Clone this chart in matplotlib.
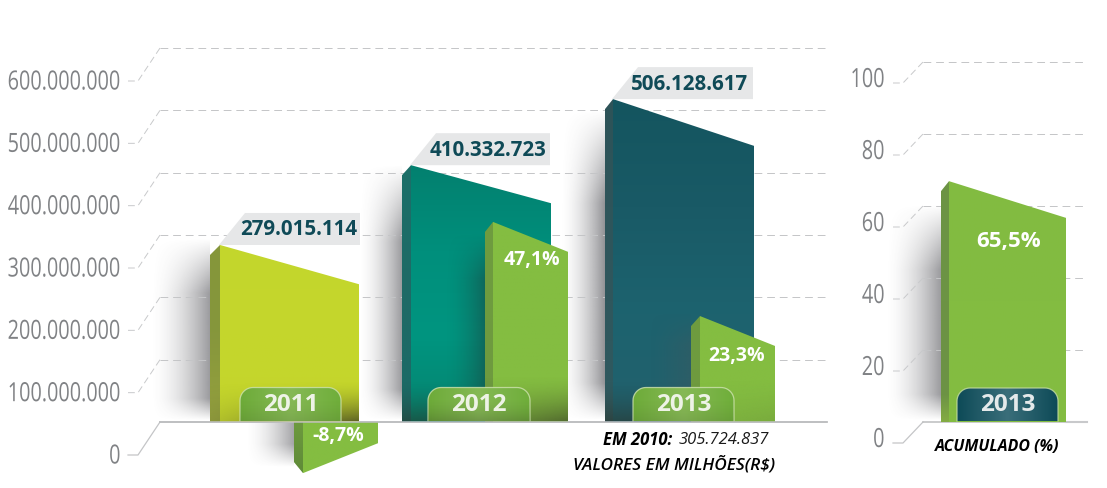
import numpy as np
import matplotlib
matplotlib.use('Agg')
import matplotlib.pyplot as plt
from matplotlib.colors import LinearSegmentedColormap, to_rgb
from matplotlib.patches import Polygon
from matplotlib.patheffects import AbstractPathEffect
from matplotlib.transforms import Affine2D

# ==================== DADOS ====================
anos = ['2011', '2012', '2013']
rotulos_valor = ['279.015.114', '410.332.723', '506.128.617']
rotulos_var = ['-8,7%', '47,1%', '23,3%']
rotulos_eixo = ['0', '100.000.000', '200.000.000', '300.000.000', '400.000.000', '500.000.000', '600.000.000']
ticks_eixo = [0, 100e6, 200e6, 300e6, 400e6, 500e6, 600e6]
ticks_acum = [0, 20, 40, 60, 80, 100]

# topo (canto alto) e fim (canto baixo), em R$
topo_barra = [284e6, 412e6, 518e6]
fim_barra = [221e6, 351e6, 443e6]
topo_var = [-82e6, 321e6, 170e6]
fim_var = [-34e6, 273e6, 122e6]
# acumulado, em %
topo_acum = 66.9
fim_acum = 56.7

W, H = 1107, 489
fig = plt.figure(figsize=(W / 100, H / 100), dpi=100, facecolor='white')

CINZA = '#808285'
ESCURO = '#0f4a57'
VERDE = '#84bd41'
FONTE = 'Open Sans'


class Estica(AbstractPathEffect):
    # estica o texto na vertical (a fonte original e condensada)
    def __init__(self, fy):
        super().__init__()
        self.fy = fy

    def draw_path(self, renderer, gc, tpath, affine, rgbFace=None):
        renderer.draw_path(gc, tpath, Affine2D().scale(1, self.fy) + affine, rgbFace)


def novo_eixo(zero_px, topo_px, topo_val):
    # eixo na figura toda: x em pixels, y em valores
    ax = fig.add_axes([0, 0, 1, 1], facecolor='none')
    esc = (zero_px - topo_px) / topo_val
    ax.set_xlim(0, W)
    ax.set_ylim((zero_px - H) / esc, zero_px / esc)
    ax.axis('off')
    return ax


def py(ax, p):
    # pixel vertical -> valor do eixo
    y0, y1 = ax.get_ylim()
    return y1 + (p / H) * (y0 - y1)


def preenche(ax, pts, cores, z, horizontal=False):
    # poligono com degrade
    xs = [p[0] for p in pts]
    ys = [p[1] for p in pts]
    cmap = LinearSegmentedColormap.from_list('g', cores)
    g = np.linspace(0, 1, 256)
    g = g.reshape(1, -1) if horizontal else g.reshape(-1, 1)
    lim = (ax.get_xlim(), ax.get_ylim())
    im = ax.imshow(g, cmap=cmap, aspect='auto', origin='upper', zorder=z, interpolation='bilinear',
                   extent=(min(xs), max(xs), min(ys), max(ys)))
    pol = Polygon(pts, closed=True, transform=ax.transData, fc='none', ec='none')
    im.set_clip_path(pol)
    ax.set_xlim(lim[0])
    ax.set_ylim(lim[1])


def sombra(ax, x0, x1, p0, p1, amax, z, cor='#4a4a50', sobe=0.3, desce=0.12, exp=1.7, clip=None):
    # sombra suave: cresce da esquerda para a direita
    m, n = 120, 120
    u = np.linspace(0, 1, m) ** exp
    t = np.linspace(0, 1, n)
    v = np.clip(t / sobe, 0, 1) * np.clip((1 - t) / desce, 0, 1)
    img = np.zeros((n, m, 4))
    img[..., :3] = to_rgb(cor)
    img[..., 3] = amax * np.outer(v, u)
    lim = (ax.get_xlim(), ax.get_ylim())
    im = ax.imshow(img, aspect='auto', origin='upper', zorder=z, interpolation='bilinear',
                   extent=(x0, x1, py(ax, p1), py(ax, p0)))
    if clip is not None:
        im.set_clip_path(Polygon(clip, closed=True, transform=ax.transData, fc='none', ec='none'))
    ax.set_xlim(lim[0])
    ax.set_ylim(lim[1])


def escurece_base(ax, x0, x1, p0, p1, a_esq, a_dir, z, cor='#2c2c20'):
    # escurecimento perto da base
    m, n = 60, 60
    t = np.linspace(0, 1, n) ** 1.6
    h = np.linspace(a_esq, a_dir, m)
    img = np.zeros((n, m, 4))
    img[..., :3] = to_rgb(cor)
    img[..., 3] = np.outer(t, h)
    lim = (ax.get_xlim(), ax.get_ylim())
    ax.imshow(img, aspect='auto', origin='upper', zorder=z, interpolation='bilinear',
              extent=(x0, x1, py(ax, p1), py(ax, p0)))
    ax.set_xlim(lim[0])
    ax.set_ylim(lim[1])


def bloco(ax, x0, x1, x2, topo, fim, base, cores, cores_lado, z):
    # x0-x1 = lateral, x1-x2 = frente
    d = py(ax, 0) - py(ax, 10)
    preenche(ax, [(x0, base), (x0, topo - d), (x1, topo), (x1, base)], cores_lado, z)
    frente = [(x1, topo), (x2, fim), (x2, base), (x1, base)]
    preenche(ax, frente, cores, z + 0.1)
    return frente


def selo(ax, x0, x1, p_topo, p_base, cores, borda, z):
    # etiqueta do ano, cantos de cima arredondados
    r = 13
    a = np.linspace(np.pi, np.pi / 2, 12)
    esq = [(x0 + r + r * np.cos(t), p_topo + r - r * np.sin(t)) for t in a]
    dir_ = [(x1 - r - r * np.cos(t), p_topo + r - r * np.sin(t)) for t in a[::-1]]
    pts = [(x0, p_base)] + esq + dir_ + [(x1, p_base)]
    pts = [(x, py(ax, p)) for x, p in pts]
    preenche(ax, pts, cores, z, horizontal=True)
    ax.plot([p[0] for p in pts], [p[1] for p in pts], color=borda, lw=0.9, alpha=0.8, zorder=z + 0.1)


def grade(ax, x_ini, x_fim, x_tick, dy_tick, valores):
    tick = py(ax, 0) - py(ax, dy_tick)
    for i, v in enumerate(valores):
        xs = [x_tick, x_tick + 10, x_ini]
        ys = [v - tick, v - tick, v]
        if i == 0:
            ax.plot(xs, ys, color='#c4c5c7', lw=0.9, zorder=2)
            ax.plot([x_ini, x_fim], [v, v], color='#bcbdbf', lw=1.1, zorder=2)
        else:
            ax.plot(xs, ys, color='#c8c9cb', lw=0.7, ls=(0, (7, 4)), zorder=2)
            ax.plot([x_ini, x_fim], [v, v], color='#c4c5c7', lw=0.7, ls=(0, (8, 5)), zorder=2)


def rotulo_eixo(ax, x, v, texto):
    # valor com a fonte larga reduzida e esticada para caber
    ax.text(x, v, texto, ha='right', va='center', color=CINZA, fontsize=14.3, family=FONTE,
            zorder=3, path_effects=[Estica(1.33)])


# ==================== PAINEL ESQUERDO ====================
ax = novo_eixo(423, 49, 600e6)
base = 0
grade(ax, 160, 827, 128, 33, ticks_eixo)

for v, r in zip(ticks_eixo, rotulos_eixo):
    rotulo_eixo(ax, 120.5, v - (py(ax, 0) - py(ax, 36.5)), r)

# sombras atras das barras
sombra(ax, 150, 210, 240, 422, 0.55, 1)
sombra(ax, 358, 402, 165, 422, 0.55, 1)
sombra(ax, 560, 605, 110, 422, 0.6, 1)
sombra(ax, 245, 294, 422, 468, 0.5, 1, sobe=0.02, desce=0.5)

x_lado = [210, 402, 605]
x_ini = [220, 411, 613]
x_fim = [359, 551, 754]
x_rotulo = [299, 488.5, 690]
cor_frente = [['#c3d62d', '#c5d72c', '#c4d52c'],
              ['#03806f', '#008f7c', '#009580', '#06836f'],
              ['#14555f', '#195a66', '#1d636f', '#22606c']]
cor_lado = [['#85973a', '#86963c', '#96a23e'],
            ['#1c6f69', '#1f6a66', '#1b6a66'],
            ['#2d5358', '#2f565c', '#2f5a60']]

x_var_lado = [294, 485, 691]
x_var_ini = [303, 493, 700]
x_var_fim = [378, 568, 775]

frentes = []
for i in range(3):
    fr = bloco(ax, x_lado[i], x_ini[i], x_fim[i], topo_barra[i], fim_barra[i], base,
               cor_frente[i], cor_lado[i], 4)
    frentes.append(fr)
    # escurece o pe da barra
    a, b = [(0.1, 0.65), (0.45, 0.7), (0.45, 0.6)][i]
    escurece_base(ax, x_lado[i], x_fim[i], 382, 422, a, b, 4.5)

    # etiqueta cinza do valor
    t = topo_barra[i]
    a32 = py(ax, 0) - py(ax, 32)
    ax.add_patch(Polygon([(x_ini[i] - 1, t), (x_ini[i] + 25, t + a32), (x_fim[i] + 1 - (2 if i else 0), t + a32),
                          (x_fim[i] + 1 - (2 if i else 0), t)], closed=True, fc='#e6e7e8', ec='none', zorder=3))
    ax.text(x_rotulo[i], t + a32 / 2, rotulos_valor[i], ha='center', va='center',
            color=ESCURO, fontsize=14.8, fontweight='bold', family=FONTE, zorder=6)

# sombra que a barra verde joga sobre a barra escura
sombra(ax, 445, 485, 235, 422, 0.5, 4.6, cor='#1c3f3c', clip=frentes[1], sobe=0.25, desce=0.02)
sombra(ax, 650, 691, 315, 422, 0.45, 4.6, cor='#3d5a60', clip=frentes[2], sobe=0.3, desce=0.02, exp=1.2)

# barras verdes de variacao
for i in (1, 2):
    fr = bloco(ax, x_var_lado[i], x_var_ini[i], x_var_fim[i], topo_var[i], fim_var[i], base,
               [VERDE, VERDE], ['#6f9c3f', '#6e9a3f'], 5)
    escurece_base(ax, x_var_lado[i], x_var_fim[i], 375, 422, 0.25 if i == 1 else 0.05, 0.55 if i == 1 else 0.12, 5.5)

# variacao negativa, abaixo da base
d10 = py(ax, 0) - py(ax, 11)
preenche(ax, [(294, 0), (303, 0), (303, topo_var[0]), (294, topo_var[0] + d10)], ['#6d9a3e', '#5f8a38'], 5)
preenche(ax, [(303, 0), (378, 0), (378, fim_var[0]), (303, topo_var[0])], [VERDE, VERDE], 5.1)

# selos dos anos
x_selo = [(240, 341), (428, 530), (633, 734)]
for i in range(3):
    selo(ax, x_selo[i][0], x_selo[i][1], 388.5, 422, ['#6dab39', '#86b955', '#6fae3a'], '#cfe3b0', 7)
    ax.text(sum(x_selo[i]) / 2, py(ax, 405), anos[i], ha='center', va='center', color='#eef3e6',
            fontsize=17.5, fontweight='bold', family=FONTE, zorder=8)
    escurece_base(ax, x_selo[i][0], x_selo[i][1], 400, 422, 0.12 + 0.12 * (i == 1), 0.12 + 0.12 * (i == 1), 7.5)

ax.plot([160, 827], [0, 0], color='#bcbdbf', lw=1.1, zorder=9)

yt = [py(ax, 436), py(ax, 260), py(ax, 356)]
xt = [338, 532, 737]
for i in range(3):
    ax.text(xt[i], yt[i], rotulos_var[i], ha='center', va='center', color='white', fontsize=14,
            fontweight='bold', family=FONTE, zorder=10)

ax.text(603, py(ax, 440), 'EM 2010:', ha='left', va='center', color='black', fontsize=12,
        fontweight='bold', style='italic', family=FONTE, zorder=10)
ax.text(679, py(ax, 440), '305.724.837', ha='left', va='center', color='#1a1a1a', fontsize=12,
        style='italic', family=FONTE, zorder=10)
ax.text(775, py(ax, 465), 'VALORES EM MILHÕES(R$)', ha='right', va='center', color='black', fontsize=12.4,
        fontweight='semibold', style='italic', family=FONTE, zorder=10)

# ==================== PAINEL DIREITO ====================
ax2 = novo_eixo(423, 63, 100)
grade(ax2, 923, 1087, 893, 21, ticks_acum)
for v in ticks_acum:
    rotulo_eixo(ax2, 884.5, v - (py(ax2, 0) - py(ax2, 20)), str(v))

sombra(ax2, 885, 941, 205, 422, 0.55, 1)
fr = bloco(ax2, 941, 949, 1066, topo_acum, fim_acum, 0, ['#82bb41', '#84bd41'], ['#6d9445', '#6c9244'], 4)
preenche(ax2, [(941, 0), (949, 0), (949, py(ax2, 395)), (941, py(ax2, 395))], ['#6c9244', '#84ac44'], 4.2)
ax2.plot([1066, 1087], [0, 0], color='#c8c9cb', lw=1.5, zorder=3)

selo(ax2, 957, 1058, 389, 422, ['#0d4a57', '#3a6e7a', '#0d4a57'], '#c7dfa5', 7)
ax2.text(1007.5, py(ax2, 405), '2013', ha='center', va='center', color='#e4e9ea', fontsize=17.5,
         fontweight='bold', family=FONTE, zorder=8)
ax2.text(1009, py(ax2, 241), '65,5%', ha='center', va='center', color='white', fontsize=16,
         fontweight='bold', family=FONTE, zorder=10)
ax2.text(997.5, py(ax2, 447), 'ACUMULADO (%)', ha='center', va='center', color='black', fontsize=11.4,
         fontweight='bold', style='italic', family=FONTE, zorder=10)

fig.savefig('out.png', dpi=100, facecolor='white')
